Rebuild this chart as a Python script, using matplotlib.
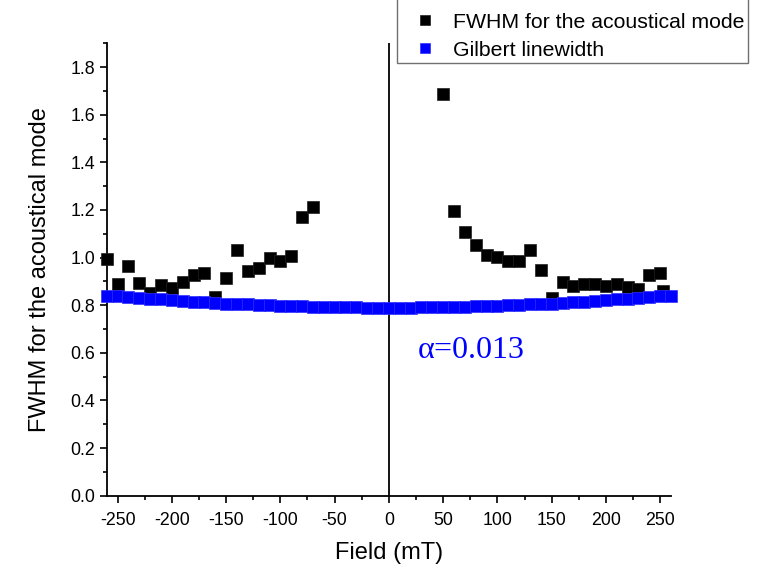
import numpy as np
import matplotlib.pyplot as plt
from matplotlib.patches import Rectangle
from matplotlib.ticker import MultipleLocator

plt.rcParams['font.family'] = ['Liberation Sans', 'DejaVu Sans']
plt.rcParams['axes.unicode_minus'] = False

# Measured FWHM of the acoustical mode (mT field, linewidth)
field_neg = [-260, -250, -240, -230, -220, -210, -200, -190, -180, -170,
             -160, -150, -140, -130, -120, -110, -100, -90, -80, -70]
fwhm_neg = [0.996, 0.888, 0.964, 0.894, 0.850, 0.884, 0.873, 0.897, 0.927, 0.937,
            0.836, 0.913, 1.031, 0.945, 0.955, 0.999, 0.985, 1.007, 1.171, 1.212]
field_pos = [50, 60, 70, 80, 90, 100, 110, 120, 130, 140, 150,
             160, 170, 180, 190, 200, 210, 220, 230, 240, 250, 253]
fwhm_pos = [1.688, 1.196, 1.109, 1.053, 1.011, 1.002, 0.986, 0.986, 1.032, 0.947, 0.832,
            0.897, 0.881, 0.891, 0.887, 0.880, 0.889, 0.878, 0.870, 0.926, 0.937, 0.861]

# Gilbert linewidth curve, alpha = 0.013
gilbert_field = list(range(-260, 261, 10))
gilbert_width = [0.840, 0.837, 0.833, 0.830, 0.827, 0.824, 0.821, 0.818, 0.815, 0.812,
                 0.810, 0.807, 0.805, 0.803, 0.801, 0.799, 0.798, 0.796, 0.795, 0.794,
                 0.793, 0.792, 0.791, 0.791, 0.790, 0.790, 0.790,
                 0.790, 0.790, 0.791, 0.791, 0.792, 0.793, 0.794, 0.795, 0.796, 0.798,
                 0.799, 0.801, 0.803, 0.805, 0.807, 0.810, 0.812, 0.815, 0.818, 0.821,
                 0.824, 0.827, 0.830, 0.833, 0.837, 0.840]

fwhm_field = field_neg + field_pos
fwhm_vals = fwhm_neg + fwhm_pos

W, H = 764, 570
fig = plt.figure(figsize=(W / 100, H / 100), dpi=100)
ax = fig.add_axes([0.1397, 0.1304, 0.7386, 0.7936])

ax.plot(fwhm_field, fwhm_vals, 's', color='black', ms=8, mec='#202020', mew=0.5,
        label='FWHM for the acoustical mode', clip_on=False, zorder=3)
ax.plot(gilbert_field, gilbert_width, 's', color='#0000ff', ms=8, mec='#3030ff', mew=0.5,
        label='Gilbert linewidth', clip_on=False, zorder=4)

ax.axvline(0, color='black', lw=1.3, zorder=2)

ax.set_xlim(-260, 260)
ax.set_ylim(0, 1.9)
ax.xaxis.set_major_locator(MultipleLocator(50))
ax.xaxis.set_minor_locator(MultipleLocator(25))
ax.yaxis.set_major_locator(MultipleLocator(0.2))
ax.yaxis.set_minor_locator(MultipleLocator(0.1))
ax.yaxis.set_major_formatter(plt.FormatStrFormatter('%.1f'))

for side in ['top', 'right']:
    ax.spines[side].set_visible(False)
for side in ['left', 'bottom']:
    ax.spines[side].set_linewidth(1.3)
ax.tick_params(which='major', direction='out', length=5, width=1.2, labelsize=12.8)
ax.tick_params(axis='x', which='major', pad=7)
ax.tick_params(which='minor', direction='out', length=3, width=1.2)

ax.set_xlabel('Field (mT)', fontsize=17, labelpad=9)
ax.set_ylabel('FWHM for the acoustical mode', fontsize=17, labelpad=14)

ax.text(26, 0.578, r'$\mathregular{\alpha}$=0.013', fontsize=23, color='#0000ff',
        family='Liberation Serif', ha='left', va='baseline')

# legend box runs off the top edge of the figure
box = Rectangle((397 / W, 1 - 63 / H), (748 - 397) / W, 70 / H,
                transform=fig.transFigure, facecolor='white',
                edgecolor='#707070', lw=1.0, zorder=5)
fig.add_artist(box)

leg = fig.legend(loc='upper left', bbox_to_anchor=(404 / W, 1 - 12.6 / H),
                 fontsize=15.3, frameon=False, handlelength=2.0, handletextpad=0.31,
                 borderpad=0, labelspacing=0.42, borderaxespad=0, markerscale=0.9)
leg.set_zorder(6)

fig.savefig('out.png', dpi=100)
